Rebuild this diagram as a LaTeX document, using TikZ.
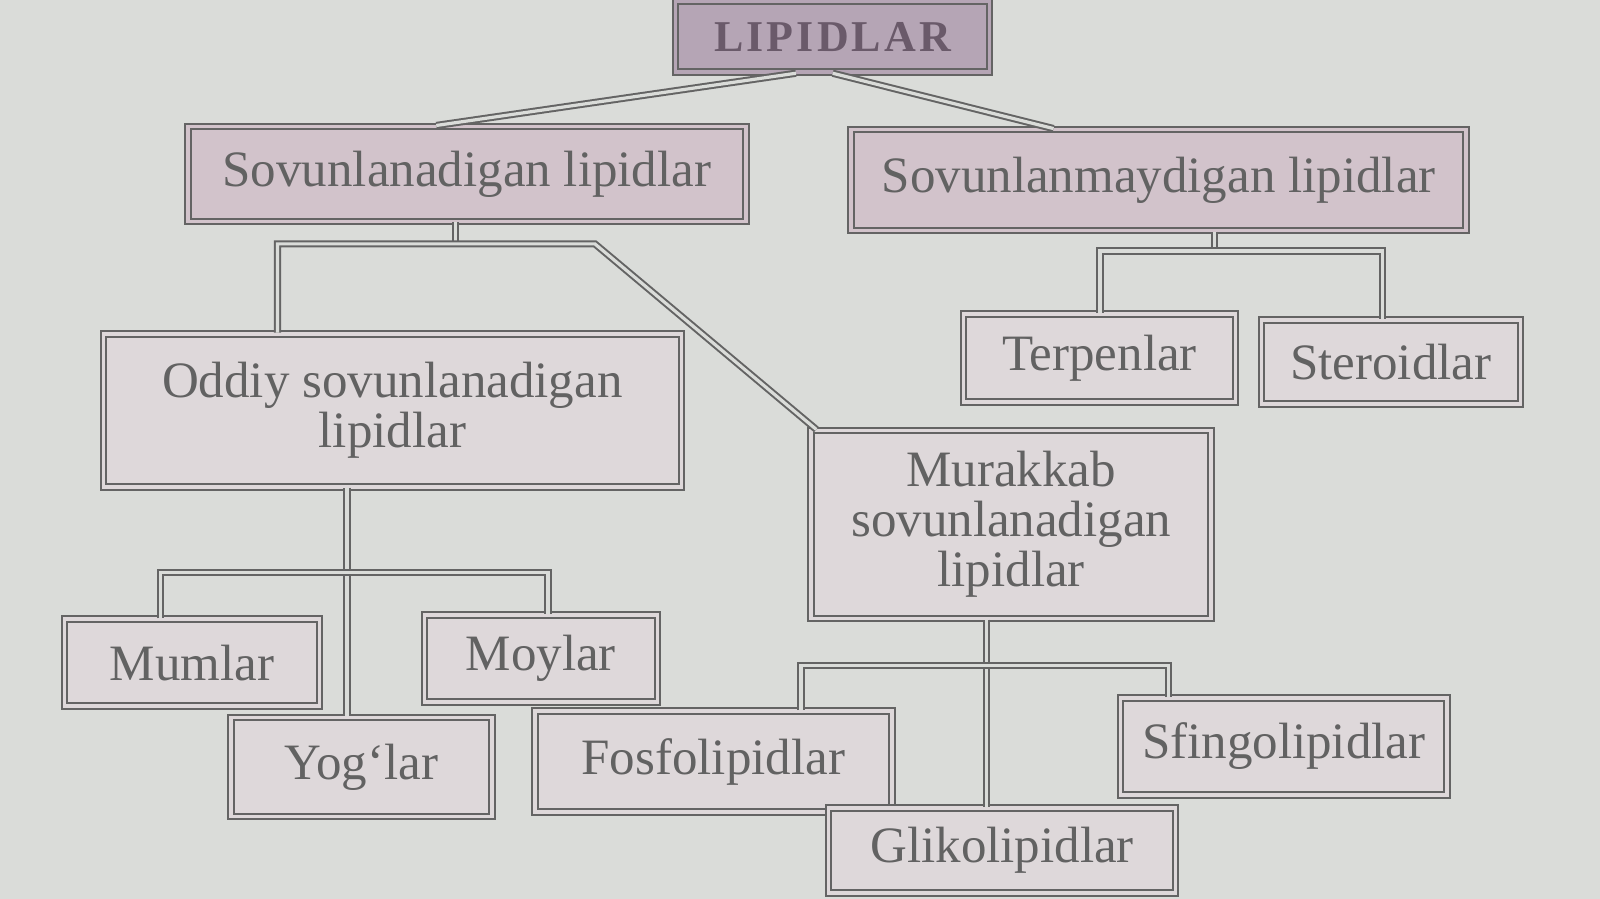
\documentclass[tikz,border=0pt]{standalone}
\usepackage{fontspec}
\setmainfont{Liberation Serif}
\usetikzlibrary{calc}
\definecolor{bgc}{HTML}{DADCD9}
\definecolor{linec}{HTML}{646464}
\definecolor{topfill}{HTML}{B5A5B5}
\definecolor{secfill}{HTML}{D2C3CB}
\definecolor{lowfill}{HTML}{DED8DA}
\definecolor{txtc}{HTML}{626262}
\definecolor{toptxt}{HTML}{6A5A6A}
\begin{document}
\begin{tikzpicture}[x=0.5102pt,y=-0.5102pt,
  box/.style={draw=linec, line width=1pt, double distance=1.8pt, inner sep=0pt, align=center,
    text=txtc, font=\fontsize{25.5pt}{25pt}\selectfont},
  topbox/.style={box, fill=topfill, double=topfill, text=toptxt,
    font=\fontsize{22pt}{22pt}\selectfont\bfseries\addfontfeature{LetterSpace=7}},
  secbox/.style={box, fill=secfill, double=secfill},
  lowbox/.style={box, fill=lowfill, double=lowfill},
  conn/.style={draw=linec, line width=1pt, double=bgc, double distance=1.6pt}]
\fill[bgc] (0,0) rectangle (1568,881);
\useasboundingbox (0,0) rectangle (1568,881);

% nodes
\node[topbox, minimum width=157pt, minimum height=35.5pt] (lip) at (816,36) {LIPIDLAR};
\node[secbox, minimum width=279pt, minimum height=47.5pt] (sov) at (457.5,170.5) {Sovunlanadigan lipidlar};
\node[secbox, minimum width=307.5pt, minimum height=50.5pt] (nsov) at (1135.5,176.5) {Sovunlanmaydigan lipidlar};
\node[lowbox, minimum width=289pt, minimum height=76.5pt] (odd) at (384.5,402) {Oddiy sovunlanadigan\\lipidlar};
\node[lowbox, minimum width=200pt, minimum height=94pt] (mur) at (991,514) {Murakkab\\sovunlanadigan\\lipidlar};
\node[lowbox, minimum width=136pt, minimum height=44pt] (ter) at (1077.5,351) {Terpenlar};
\node[lowbox, minimum width=129.5pt, minimum height=42pt] (ste) at (1363,355) {Steroidlar};
\node[lowbox, minimum width=127.5pt, minimum height=43.5pt] (mum) at (188,649.5) {Mumlar};
\node[lowbox, minimum width=116.5pt, minimum height=43.5pt] (moy) at (530,645.5) {Moylar};
\node[lowbox, minimum width=130.5pt, minimum height=49.5pt] (yog) at (354,751.5) {Yog‘lar};
\node[lowbox, minimum width=178.5pt, minimum height=50.5pt] (fos) at (699,746.5) {Fosfolipidlar};
\node[lowbox, minimum width=163pt, minimum height=48.5pt] (sfi) at (1258,731.5) {Sfingolipidlar};
\node[lowbox, minimum width=173.5pt, minimum height=42.5pt] (gli) at (982,833.5) {Glikolipidlar};

% junction coordinates
\coordinate (s1) at (446,239);
\coordinate (s2) at (272,239);
\coordinate (s3) at (583,239);
\coordinate (n1) at (1190,246);
\coordinate (n2) at (1078,246);
\coordinate (n3) at (1355,246);
\coordinate (o1) at (340,561);
\coordinate (o2) at (157,561);
\coordinate (o3) at (537,561);
\coordinate (m1) at (967,652);
\coordinate (m2) at (785,652);
\coordinate (m3) at (1145,652);

% connectors
\draw[conn] ($(lip.south)+(-36,0)$) -- ($(sov.north)+(-30,0)$);
\draw[conn] (lip.south) -- ($(nsov.north)+(-103,0)$);

\draw[conn] (s1 |- sov.south) -- (s1);
\draw[conn] (s2 |- odd.north) -- (s2) -- (s3) -- ($(mur.north west)+(6,0)$);

\draw[conn] (n1 |- nsov.south) -- (n1);
\draw[conn] (n2 |- ter.north) -- (n2) -- (n3) -- (n3 |- ste.north);

\draw[conn] (o1 |- odd.south) -- (o1 |- yog.north);
\draw[conn] (o2 |- mum.north) -- (o2) -- (o3) -- (o3 |- moy.north);

\draw[conn] (m1 |- mur.south) -- (m1 |- gli.north);
\draw[conn] (m2 |- fos.north) -- (m2) -- (m3) -- (m3 |- sfi.north);
\end{tikzpicture}
\end{document}
